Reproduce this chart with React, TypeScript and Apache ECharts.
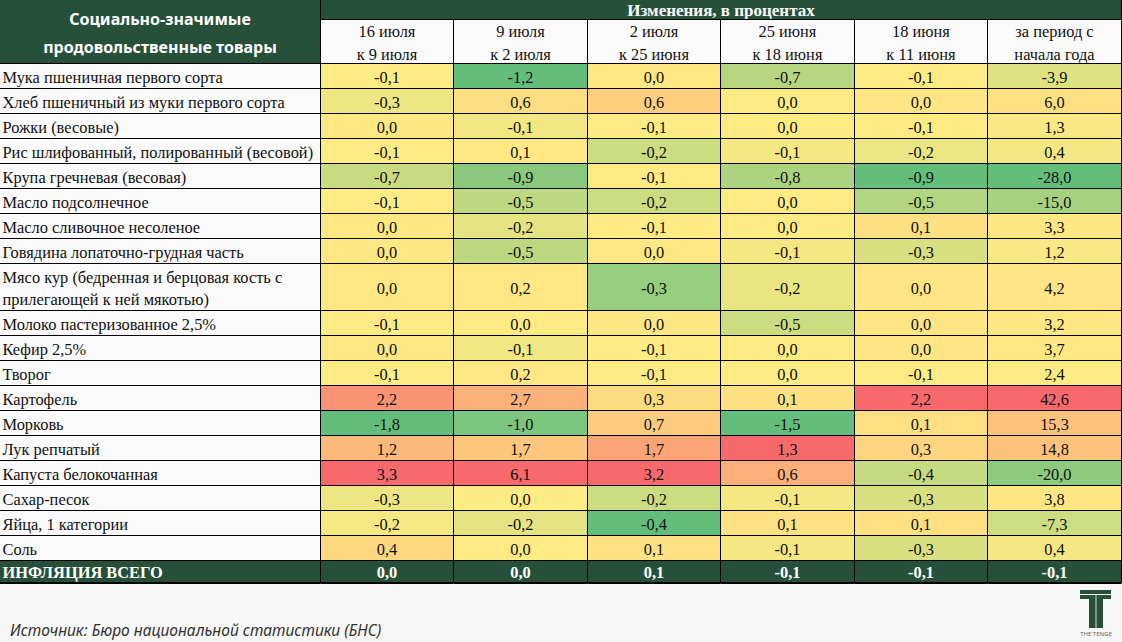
import React, { useEffect, useRef } from "react";
import * as echarts from "echarts";

// ---------- data ----------
const tableTitle = "Социально-значимые\nпродовольственные товары";
const groupTitle = "Изменения, в процентах";
const totalLabel = "ИНФЛЯЦИЯ ВСЕГО";
const sourceText = "Источник: Бюро национальной статистики (БНС)";
const logoText = "THE TENGE";

const periodHeaders = [
  "16 июля\nк 9 июля",
  "9 июля\nк 2 июля",
  "2 июля\nк 25 июня",
  "25 июня\nк 18 июня",
  "18 июня\nк 11 июня",
  "за период с\nначала года",
];

const products = [
  "Мука пшеничная первого сорта",
  "Хлеб пшеничный из муки первого сорта",
  "Рожки (весовые)",
  "Рис шлифованный, полированный (весовой)",
  "Крупа гречневая (весовая)",
  "Масло подсолнечное",
  "Масло сливочное несоленое",
  "Говядина лопаточно-грудная часть",
  "Мясо кур (бедренная и берцовая кость с\nприлегающей к ней мякотью)",
  "Молоко пастеризованное 2,5%",
  "Кефир 2,5%",
  "Творог",
  "Картофель",
  "Морковь",
  "Лук репчатый",
  "Капуста белокочанная",
  "Сахар-песок",
  "Яйца, 1 категории",
  "Соль",
];

const jul16vsJul9 = [-0.1, -0.3, 0.0, -0.1, -0.7, -0.1, 0.0, 0.0, 0.0, -0.1, 0.0, -0.1, 2.2, -1.8, 1.2, 3.3, -0.3, -0.2, 0.4];
const jul9vsJul2 = [-1.2, 0.6, -0.1, 0.1, -0.9, -0.5, -0.2, -0.5, 0.2, 0.0, -0.1, 0.2, 2.7, -1.0, 1.7, 6.1, 0.0, -0.2, 0.0];
const jul2vsJun25 = [0.0, 0.6, -0.1, -0.2, -0.1, -0.2, -0.1, 0.0, -0.3, 0.0, -0.1, -0.1, 0.3, 0.7, 1.7, 3.2, -0.2, -0.4, 0.1];
const jun25vsJun18 = [-0.7, 0.0, 0.0, -0.1, -0.8, 0.0, 0.0, -0.1, -0.2, -0.5, 0.0, 0.0, 0.1, -1.5, 1.3, 0.6, -0.1, 0.1, -0.1];
const jun18vsJun11 = [-0.1, 0.0, -0.1, -0.2, -0.9, -0.5, 0.1, -0.3, 0.0, 0.0, 0.0, -0.1, 2.2, 0.1, 0.3, -0.4, -0.3, 0.1, -0.3];
const sinceYearStart = [-3.9, 6.0, 1.3, 0.4, -28.0, -15.0, 3.3, 1.2, 4.2, 3.2, 3.7, 2.4, 42.6, 15.3, 14.8, -20.0, 3.8, -7.3, 0.4];
const inflationTotal = [0.0, 0.0, 0.1, -0.1, -0.1, -0.1];

const columns = [jul16vsJul9, jul9vsJul2, jul2vsJun25, jun25vsJun18, jun18vsJun11, sinceYearStart];

// ---------- style ----------
const DARK = "#27503a";
const PAGE_BG = "#f7f7f7";
const LABEL_BG = "#fafafa";
const GREEN = [99, 190, 123];
const YELLOW = [255, 235, 132];
const RED = [248, 105, 107];
const LABEL_UNITS = 2.4; // label column width in data-column widths
const COL_PX = 133.75;
const H_GROUP = 20;
const H_PERIOD = 44;
const H_TOTAL = 22;
const rowHeight = (label: string) => 3 + 22 * label.split("\n").length;

const mix = (a: number[], b: number[], t: number) =>
  "rgb(" + a.map((v, i) => Math.round(v + (b[i] - v) * t)).join(",") + ")";

function scaleColor(v: number, col: number[]) {
  const s = [...col].sort((a, b) => a - b);
  const pos = 0.5 * (s.length - 1);
  const lo = Math.floor(pos);
  const hi = Math.ceil(pos);
  const mid = s[lo] + (s[hi] - s[lo]) * (pos - lo);
  const min = s[0];
  const max = s[s.length - 1];
  if (v <= mid) {
    const t = mid === min ? 1 : (v - min) / (mid - min);
    return mix(GREEN, YELLOW, t);
  }
  const t = max === mid ? 0 : (v - mid) / (max - mid);
  return mix(YELLOW, RED, t);
}

const fmt = (v: number) => v.toFixed(1).replace(".", ",");

type Cell = {
  x0: number; x1: number; y0: number; y1: number;
  text: string; fill: string; color: string; font: string;
  align: "left" | "center"; lineHeight: number; total?: boolean;
};

function buildCells(): { cells: Cell[]; totalH: number } {
  const cells: Cell[] = [];
  const serif = "16.4px 'Liberation Serif', 'Times New Roman', serif";
  const serifBold = "bold 16.4px 'Liberation Serif', 'Times New Roman', serif";
  // header
  cells.push({ x0: 0, x1: LABEL_UNITS, y0: 0, y1: H_GROUP + H_PERIOD, text: tableTitle, fill: DARK, color: "#fff",
    font: "bold 16px 'Noto Sans', 'Open Sans', sans-serif", align: "center", lineHeight: 28 });
  cells.push({ x0: LABEL_UNITS, x1: LABEL_UNITS + periodHeaders.length, y0: 0, y1: H_GROUP, text: groupTitle, fill: DARK,
    color: "#fff", font: "bold 17px 'Liberation Serif', 'Times New Roman', serif", align: "center", lineHeight: 18 });
  periodHeaders.forEach((h, c) => {
    cells.push({ x0: LABEL_UNITS + c, x1: LABEL_UNITS + c + 1, y0: H_GROUP, y1: H_GROUP + H_PERIOD, text: h, fill: LABEL_BG,
      color: "#111", font: serif, align: "center", lineHeight: 23 });
  });
  let y = H_GROUP + H_PERIOD;
  products.forEach((p, r) => {
    const h = rowHeight(p);
    cells.push({ x0: 0, x1: LABEL_UNITS, y0: y, y1: y + h, text: p, fill: LABEL_BG, color: "#111", font: serif,
      align: "left", lineHeight: 22 });
    columns.forEach((col, c) => {
      cells.push({ x0: LABEL_UNITS + c, x1: LABEL_UNITS + c + 1, y0: y, y1: y + h, text: fmt(col[r]),
        fill: scaleColor(col[r], col), color: "#111", font: serif, align: "center", lineHeight: 18 });
    });
    y += h;
  });
  cells.push({ x0: 0, x1: LABEL_UNITS, y0: y, y1: y + H_TOTAL, text: totalLabel, fill: DARK, color: "#fff", font: serifBold,
    align: "left", lineHeight: 18, total: true });
  inflationTotal.forEach((v, c) => {
    cells.push({ x0: LABEL_UNITS + c, x1: LABEL_UNITS + c + 1, y0: y, y1: y + H_TOTAL, text: fmt(v), fill: DARK,
      color: "#fff", font: serifBold, align: "center", lineHeight: 18, total: true });
  });
  y += H_TOTAL;
  return { cells, totalH: y };
}

export default function App() {
  const ref = useRef<HTMLDivElement>(null);
  useEffect(() => {
    if (!ref.current) return;
    const chart = echarts.init(ref.current, undefined, { renderer: "svg" });
    const { cells, totalH } = buildCells();
    const xMax = LABEL_UNITS + periodHeaders.length;
    const snap = (v: number) => Math.round(v) + 0.5;
    chart.setOption({
      animation: false,
      backgroundColor: PAGE_BG,
      grid: { left: 0, top: 0, width: COL_PX * xMax, height: totalH },
      xAxis: { type: "value", min: 0, max: xMax, show: false },
      yAxis: { type: "value", min: 0, max: totalH, inverse: true, show: false },
      series: [
        {
          type: "custom",
          clip: false,
          encode: { x: [0, 1], y: [2, 3] },
          data: cells.map((c) => [c.x0, c.x1, c.y0, c.y1]),
          renderItem: (params: any, api: any) => {
            const c = cells[params.dataIndex];
            const p0 = api.coord([api.value(0), api.value(2)]);
            const p1 = api.coord([api.value(1), api.value(3)]);
            const x = snap(p0[0]) - 1;
            const y = snap(p0[1]) - 1;
            const w = snap(p1[0]) - 1 - x;
            const h = snap(p1[1]) - 1 - y;
            const children: any[] = [
              { type: "rect", shape: { x, y, width: w, height: h }, style: { fill: c.fill, stroke: "#000", lineWidth: 1 } },
            ];
            if (c.total) {
              children.push({ type: "line", shape: { x1: x, y1: y + h + 0.5, x2: x + w, y2: y + h + 0.5 },
                style: { stroke: "#000", lineWidth: 2 } });
            }
            children.push({
              type: "text",
              style: {
                text: c.text,
                x: c.align === "left" ? x + 3 : x + w / 2,
                y: y + h / 2 + 1,
                textAlign: c.align,
                textVerticalAlign: "middle",
                font: c.font,
                fill: c.color,
                lineHeight: c.lineHeight,
              },
            });
            return { type: "group", children };
          },
        },
      ],
      graphic: [
        {
          type: "text",
          left: 10,
          top: 622,
          style: { text: sourceText, font: "italic 15.5px 'Noto Sans', 'Open Sans', sans-serif", fill: "#333" },
        },
        {
          type: "group",
          left: 1080,
          top: 590,
          children: [
            { type: "rect", shape: { x: 0, y: 0, width: 31, height: 4 }, style: { fill: DARK } },
            { type: "rect", shape: { x: 0, y: 5, width: 31, height: 4 }, style: { fill: DARK } },
            { type: "rect", shape: { x: 9, y: 9, width: 14, height: 29 }, style: { fill: DARK } },
            { type: "rect", shape: { x: 15.6, y: 5, width: 0.8, height: 33 }, style: { fill: "#fff" } },
            { type: "text", style: { text: logoText, x: 16, y: 44, textAlign: "center", textVerticalAlign: "middle",
              font: "6px 'Noto Sans', sans-serif", fill: "#666" } },
          ],
        },
      ],
    });
    return () => chart.dispose();
  }, []);
  return (
    <div
      ref={ref}
      style={{ position: "absolute", left: 0, top: 0, width: 1122, height: 642, background: PAGE_BG }}
    />
  );
}
